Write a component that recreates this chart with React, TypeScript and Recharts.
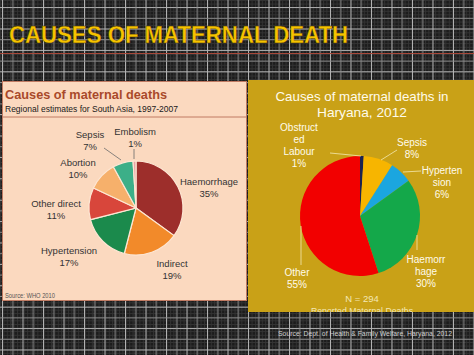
import React from "react";
import { PieChart, Pie, Cell } from "recharts";

// ---- Data ----
const southAsiaCauses = ["Haemorrhage", "Indirect", "Hypertension", "Other direct", "Abortion", "Sepsis", "Embolism"];
const southAsiaShares = [35, 19, 17, 11, 10, 7, 1];
const southAsiaColors = ["#9d2e2b", "#f28a2a", "#1b8a4c", "#d8463b", "#f6b06b", "#3caf88", "#e9a3a6"];

const haryanaCauses = [["Obstruct", "ed", "Labour"], ["Sepsis"], ["Hyperten", "sion"], ["Haemorr", "hage"], ["Other"]];
const haryanaShares = [1, 8, 6, 30, 55];
const haryanaColors = ["#1c2350", "#f7b500", "#1ba6df", "#14a84a", "#f20000"];

const southAsiaData = southAsiaCauses.map((name, i) => ({ name, value: southAsiaShares[i] }));
const haryanaData = haryanaCauses.map((lines, i) => ({ name: lines.join(""), value: haryanaShares[i] }));

// ---- Label layout (relative to pie centre): text anchor + optional leader line ----
const southAsiaLayout = [
  { dx: 73, dy: -23 },
  { dx: 36, dy: 59 },
  { dx: -67, dy: 46 },
  { dx: -80, dy: -1 },
  { dx: -58, dy: -42 },
  { dx: -46, dy: -70, line: [-32, -60, -15, -48] },
  { dx: -1, dy: -73, line: [-2, -59, -2, -49] },
];
const haryanaLayout = [
  { dx: -61, dy: -85, line: [-30, -63, 1, -60] },
  { dx: 52, dy: -70, line: [37, -66, 21, -56] },
  { dx: 82, dy: -42, line: [43, -44, 61, -45] },
  { dx: 66, dy: 47, line: [57, 19, 57, 34] },
  { dx: -63, dy: 60, line: [-59, 10, -59, 49] },
];

const makeLabel = (
  layout: any[],
  lines: string[][],
  values: number[],
  color: string,
  lineColor: string,
  fontSize: number,
  lh: number,
  family: string
) => (props: any) => {
  const { cx, cy, index } = props;
  const L = layout[index];
  const textLines = [...lines[index], `${values[index]}%`];
  return (
    <g key={`lbl-${index}`}>
      {L.line && (
        <line
          x1={cx + L.line[0]}
          y1={cy + L.line[1]}
          x2={cx + L.line[2]}
          y2={cy + L.line[3]}
          stroke={lineColor}
          strokeWidth={0.8}
        />
      )}
      <text textAnchor="middle" fill={color} fontSize={fontSize} fontFamily={family}>
        {textLines.map((t, k) => (
          <tspan key={k} x={cx + L.dx} y={cy + L.dy + k * lh}>
            {t}
          </tspan>
        ))}
      </text>
    </g>
  );
};

const southAsiaLines = southAsiaCauses.map((c) => [c]);

export default function App() {
  const W = 474;
  const H = 355;
  return (
    <div style={{ position: "absolute", left: 0, top: 0, width: W, height: H, overflow: "hidden" }}>
      <svg width={W} height={H} style={{ position: "absolute", left: 0, top: 0 }}>
        <defs>
          <pattern id="fine" x="0" y="0" width="3.4" height="3.6" patternUnits="userSpaceOnUse">
            <rect width="3.4" height="3.6" fill="#1c1c1c" />
            <path d="M0.5 0 V3.6 M0 0.5 H3.4" stroke="#343434" strokeWidth="0.9" />
          </pattern>
          <pattern id="grid" x="2" y="7.1" width="20.5" height="21.4" patternUnits="userSpaceOnUse">
            <path d="M0.5 0 V21.4 M0 0.5 H20.5" stroke="#b4b4b4" strokeWidth="1" />
            <path d="M10.75 0 V21.4 M0 11.2 H20.5" stroke="#8a8a8a" strokeWidth="1" />
          </pattern>
          <clipPath id="goldClip">
            <rect x={248} y={80} width={226} height={232} />
          </clipPath>
        </defs>
        <rect width={W} height={H} fill="url(#fine)" />
        <rect width={W} height={H} fill="url(#grid)" />
        <line x1={0} y1={53.5} x2={W} y2={53.5} stroke="#a8483a" strokeWidth={1} />
        <text
          x={9}
          y={43}
          fontSize={24}
          fontWeight="bold"
          fontFamily="'Liberation Sans Narrow', 'Liberation Sans', Arial, sans-serif"
          fill="#f6c300"
          textLength={339}
          lengthAdjust="spacingAndGlyphs"
          stroke="#3a2a00"
          strokeWidth={0.3}
        >
          CAUSES OF MATERNAL DEATH
        </text>

        {/* left panel */}
        <rect x={2.5} y={81.5} width={244} height={219} fill="#fbd9bf" stroke="#c07a62" strokeWidth={1} />
        <line x1={3} y1={117} x2={246} y2={117} stroke="#c07a62" strokeWidth={1} />
        <text
          x={5}
          y={99}
          fontSize={13.5}
          fontWeight="bold"
          fontFamily="'Liberation Sans', Arial, sans-serif"
          fill="#a9492a"
          textLength={162}
          lengthAdjust="spacingAndGlyphs"
        >
          Causes of maternal deaths
        </text>
        <text
          x={5}
          y={112}
          fontSize={8.6}
          fontFamily="'Liberation Sans', Arial, sans-serif"
          fill="#1a1a1a"
          textLength={173}
          lengthAdjust="spacingAndGlyphs"
        >
          Regional estimates for South Asia, 1997-2007
        </text>
        <text
          x={5}
          y={298}
          fontSize={6.3}
          fontFamily="'Liberation Sans', Arial, sans-serif"
          fill="#555"
          textLength={50}
          lengthAdjust="spacingAndGlyphs"
        >
          Source: WHO 2010
        </text>

        {/* right panel */}
        <rect x={248} y={80} width={226} height={232} fill="#c9a117" />
        <text
          x={362}
          y={101}
          textAnchor="middle"
          fontSize={13.5}
          fontFamily="'Liberation Sans', Arial, sans-serif"
          fill="#fffbea"
          textLength={173}
          lengthAdjust="spacingAndGlyphs"
        >
          Causes of maternal deaths in
        </text>
        <text
          x={362}
          y={117}
          textAnchor="middle"
          fontSize={13.5}
          fontFamily="'Liberation Sans', Arial, sans-serif"
          fill="#fffbea"
          textLength={90}
          lengthAdjust="spacingAndGlyphs"
        >
          Haryana, 2012
        </text>
        <text
          x={362}
          y={302}
          textAnchor="middle"
          fontSize={9.5}
          fontFamily="'Liberation Sans', Arial, sans-serif"
          fill="#f3e7b5"
        >
          N = 294
        </text>
        <g clipPath="url(#goldClip)">
          <text
            x={362}
            y={314}
            textAnchor="middle"
            fontSize={9.5}
            fontFamily="'Liberation Sans', Arial, sans-serif"
            fill="#f3e7b5"
            textLength={102}
            lengthAdjust="spacingAndGlyphs"
          >
            Reported Maternal Deaths
          </text>
        </g>
        <text
          x={452}
          y={336}
          textAnchor="end"
          fontSize={7}
          fontFamily="'Liberation Sans', Arial, sans-serif"
          fill="#cfcfcf"
          textLength={174}
          lengthAdjust="spacingAndGlyphs"
        >
          Source: Dept. of Health &amp; Family Welfare, Haryana, 2012
        </text>
      </svg>

      <div style={{ position: "absolute", left: 0, top: 0 }}>
        <PieChart width={W} height={H} margin={{ top: 0, right: 0, bottom: 0, left: 0 }}>
          <Pie
            data={southAsiaData}
            dataKey="value"
            nameKey="name"
            cx={136}
            cy={208}
            outerRadius={47}
            startAngle={90}
            endAngle={-270}
            stroke="#fde6d3"
            strokeWidth={1.2}
            isAnimationActive={false}
            labelLine={false}
            label={makeLabel(southAsiaLayout, southAsiaLines, southAsiaShares, "#333333", "#6b6b6b", 9.5, 11.5, "'Liberation Sans', Arial, sans-serif")}
          >
            {southAsiaData.map((d, i) => (
              <Cell key={d.name} fill={southAsiaColors[i]} />
            ))}
          </Pie>
          <Pie
            data={haryanaData}
            dataKey="value"
            nameKey="name"
            cx={360}
            cy={216}
            outerRadius={60}
            startAngle={90}
            endAngle={-270}
            stroke="none"
            isAnimationActive={false}
            labelLine={false}
            label={makeLabel(haryanaLayout, haryanaCauses, haryanaShares, "#fffbea", "#f4e8b0", 10, 12, "'Liberation Sans', Arial, sans-serif")}
          >
            {haryanaData.map((d, i) => (
              <Cell key={d.name} fill={haryanaColors[i]} />
            ))}
          </Pie>
        </PieChart>
      </div>
    </div>
  );
}
